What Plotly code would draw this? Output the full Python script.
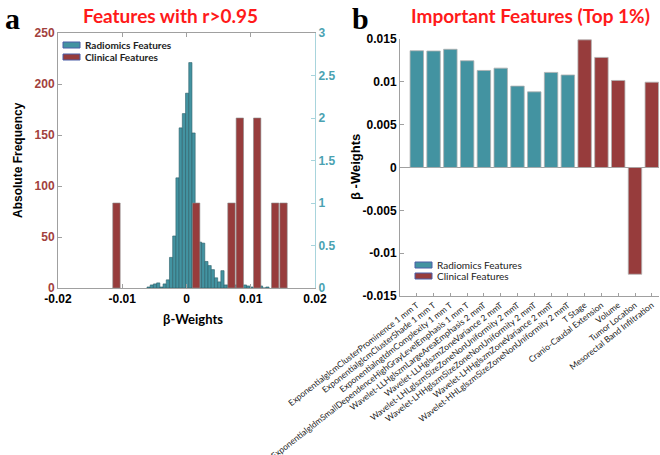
import plotly.graph_objects as go

# ---------------- data ----------------
# Panel a: radiomics beta-weight histogram (bin centres, counts)
rad_bin_start = -0.0059
rad_bin_width = 0.0005
rad_counts = [1, 3, 4, 5, 1, 4, 8, 30, 51, 108, 157, 171, 191, 221, 152, 70,
              45, 44, 26, 22, 18, 10, 6, 17, 3, 3, 0, 3, 0, 0, 3, 2, 1, 0, 0, 2, 0, 1]
rad_centres = [round(rad_bin_start + i * rad_bin_width, 6) for i in range(len(rad_counts))]

# Panel a: clinical features histogram (bin centres, counts)
clin_centres = [-0.0109, 0.0015, 0.0070, 0.0083, 0.0110, 0.0138, 0.0151]
clin_counts = [1, 1, 1, 2, 2, 1, 1]
clin_width = 0.00115

x_ticks_a = [-0.02, -0.01, 0, 0.01, 0.02]
x_ticktext_a = ["-0.02", "-0.01", "0", "0.01", "0.02"]
y_left_ticks = [0, 50, 100, 150, 200, 250]
y_right_ticks = [0, 0.5, 1, 1.5, 2, 2.5, 3]
y_right_text = ["0", "0.5", "1", "1.5", "2", "2.5", "3"]

# Panel b: important features
feat_names = [
    "ExponentialglcmClusterProminence 1 mm T",
    "ExponentialglcmClusterShade 1 mm T",
    "ExponentialngtdmComplexity 1 mm T",
    "ExponentialgldmSmallDependenceHighGrayLevelEmphasis 1 mm T",
    "Wavelet-LLHglszmLargeAreaEmphasis 2 mmT",
    "Wavelet-LLHglszmZoneVariance 2 mmT",
    "Wavelet-LHLglszmSizeZoneNonUniformity 2 mmT",
    "Wavelet-LHHglszmSizeZoneNonUniformity 2 mmT",
    "Wavelet-LHHglszmZoneVariance 2 mmT",
    "Wavelet-HHLglszmSizeZoneNonUniformity 2 mmT",
    "T Stage",
    "Cranio-Caudal Extension",
    "Volume",
    "Tumor Location",
    "Mesorectal Band Infiltration",
]
feat_weights = [0.01363, 0.0136, 0.0138, 0.01246, 0.01133, 0.0116, 0.0095, 0.00883,
                0.0111, 0.0108, 0.0149, 0.01285, 0.01016, -0.01246, 0.00996]
feat_type = ["Radiomics"] * 10 + ["Clinical"] * 5
y_ticks_b = [-0.015, -0.01, -0.005, 0, 0.005, 0.01, 0.015]
y_ticktext_b = ["-0.015", "-0.01", "-0.005", "0", "0.005", "0.01", "0.015"]

TEAL = "#4393a1"
RED = "#973c3c"
LEFT_TICK = "#a2413d"
RIGHT_TICK = "#4aa2b2"

W, H = 660, 455
def px(x):
    return x / W
def py(y):
    return 1 - y / H

fig = go.Figure()

# panel a
fig.add_trace(go.Bar(x=rad_centres, y=rad_counts, width=rad_bin_width,
                     marker=dict(color=TEAL, line=dict(color="#2b5e68", width=0.6)),
                     xaxis="x", yaxis="y", showlegend=False))
fig.add_trace(go.Bar(x=clin_centres, y=clin_counts, width=clin_width,
                     marker=dict(color=RED, line=dict(color="#8c8c8c", width=0.6)),
                     xaxis="x", yaxis="y2", showlegend=False))

# panel b
cols_b = [TEAL if t == "Radiomics" else RED for t in feat_type]
fig.add_trace(go.Bar(x=list(range(len(feat_names))), y=feat_weights, width=0.8,
                     marker=dict(color=cols_b, line=dict(color="#b0b0b0", width=0.8)),
                     xaxis="x2", yaxis="y3", showlegend=False))

bold12 = dict(family="Liberation Sans", size=12, weight="bold")

fig.update_layout(
    width=W, height=H,
    margin=dict(l=0, r=0, t=0, b=0, pad=0),
    paper_bgcolor="white", plot_bgcolor="white",
    barmode="overlay",
    xaxis=dict(domain=[px(58), px(315)], range=[-0.02, 0.02], anchor="y", automargin=False,
               tickvals=x_ticks_a, ticktext=x_ticktext_a,
               tickfont=dict(bold12, color="black"),
               showline=True, linecolor="#a0a0a0", linewidth=1, mirror="ticks",
               ticks="inside", ticklen=4, tickcolor="#a0a0a0",
               showgrid=False, zeroline=False),
    yaxis=dict(domain=[py(288), py(33)], range=[0, 250], anchor="x", automargin=False,
               tickvals=y_left_ticks, tickfont=dict(bold12, color=LEFT_TICK),
               showline=True, linecolor="#a0a0a0", linewidth=1,
               ticks="inside", ticklen=4, tickcolor="#a0a0a0",
               showgrid=False, zeroline=False),
    yaxis2=dict(overlaying="y", side="right", range=[0, 3], anchor="x", automargin=False,
                tickvals=y_right_ticks, ticktext=y_right_text,
                tickfont=dict(bold12, color=RIGHT_TICK),
                showline=True, linecolor="#a8d4dc", linewidth=1,
                ticks="inside", ticklen=4, tickcolor="#a8d4dc",
                showgrid=False, zeroline=False),
    xaxis2=dict(domain=[px(400), px(659)], range=[-1, 14.43], anchor="y3", automargin=False,
                tickvals=list(range(len(feat_names))), ticktext=feat_names,
                tickangle=-38, tickfont=dict(family="Lato", size=8.5, color="#222"),
                showline=True, linecolor="#a0a0a0", linewidth=1,
                ticks="inside", ticklen=3, tickcolor="#a0a0a0",
                showgrid=False, zeroline=False),
    yaxis3=dict(domain=[py(296), py(39)], range=[-0.015, 0.015], anchor="x2", automargin=False,
                tickvals=y_ticks_b, ticktext=y_ticktext_b,
                tickfont=dict(bold12, color="black"),
                showline=True, linecolor="#a0a0a0", linewidth=1,
                ticks="inside", ticklen=4, tickcolor="#a0a0a0",
                showgrid=False, zeroline=True, zerolinecolor="#a0a0a0", zerolinewidth=1),
)

annotations = [
    dict(text="<b>a</b>", x=px(3), y=py(0), xanchor="left", yanchor="top",
         font=dict(family="Liberation Serif", size=30, color="black")),
    dict(text="<b>b</b>", x=px(350), y=py(0), xanchor="left", yanchor="top",
         font=dict(family="Liberation Serif", size=30, color="black")),
    dict(text="<b>Features with r>0.95</b>", x=px(170), y=py(16), xanchor="center", yanchor="middle",
         font=dict(family="Lato", size=19, color="#ff1a1a")),
    dict(text="<b>Important Features (Top 1%)</b>", x=px(530), y=py(16), xanchor="center", yanchor="middle",
         font=dict(family="Lato", size=19, color="#ff1a1a")),
    dict(text="<b>Absolute Frequency</b>", x=px(18), y=py(160), textangle=-90,
         xanchor="center", yanchor="middle",
         font=dict(family="Liberation Sans", size=12, color="black")),
    dict(text="<b>β-Weights</b>", x=px(193), y=py(319), xanchor="center", yanchor="middle",
         font=dict(family="Lato", size=13, color="black")),
    dict(text="<b>β -Weights</b>", x=px(355), y=py(167), textangle=-90,
         xanchor="center", yanchor="middle",
         font=dict(family="Liberation Sans", size=13, color="black")),
]

shapes = []
def legend_item(x0, yc, color, label, bold):
    shapes.append(dict(type="rect", xref="paper", yref="paper",
                       x0=px(x0), x1=px(x0 + 17), y0=py(yc + 3), y1=py(yc - 3),
                       fillcolor=color, line=dict(color="#4a5ea8", width=1)))
    annotations.append(dict(text=("<b>%s</b>" % label) if bold else label,
                            x=px(x0 + 20), y=py(yc), xanchor="left", yanchor="middle",
                            font=dict(family="Lato", size=10, color="#222")))

legend_item(63, 45, TEAL, "Radiomics Features", True)
legend_item(63, 57, RED, "Clinical Features", True)
legend_item(415, 265, TEAL, "Radiomics Features", False)
legend_item(415, 276, RED, "Clinical Features", False)

for a in annotations:
    a.setdefault("xref", "paper")
    a.setdefault("yref", "paper")
    a.setdefault("showarrow", False)

fig.update_layout(annotations=annotations, shapes=shapes)
fig.write_html("out.html", config={"displayModeBar": False},
               post_script="document.body.style.margin='0';document.body.style.overflow='hidden';")
